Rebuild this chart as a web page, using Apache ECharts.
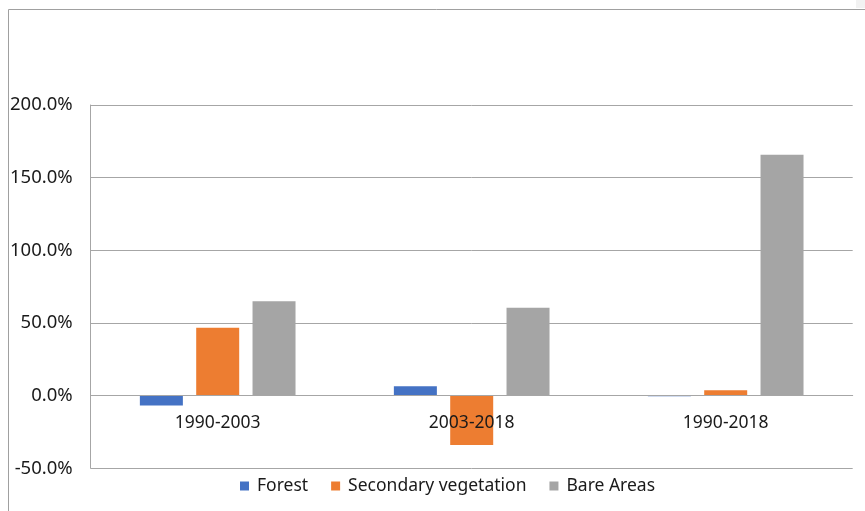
<!DOCTYPE html>
<html>
<head>
<meta charset="utf-8">
<script src="https://cdn.jsdelivr.net/npm/echarts@6/dist/echarts.min.js"></script>
<style>
  html, body { margin: 0; padding: 0; background: #fff; }
  #chart { width: 865px; height: 511px; }
</style>
</head>
<body>
<div id="chart"></div>
<script>
// Land-cover change per period (%)
const periods = ['1990-2003', '2003-2018', '1990-2018'];
const forest = [-6.7, 6.4, -0.4];
const secondaryVegetation = [46.8, -34.0, 3.7];
const bareAreas = [65.0, 60.4, 165.7];
const yTicks = { min: -50, max: 200, step: 50 };

const chart = echarts.init(document.getElementById('chart'), null, { renderer: 'canvas' });
const font = '"Noto Sans", sans-serif';
const lineGray = '#a6a6a6';
const textColor = '#1a1a1a';

// Category labels sit just under the zero line rather than at the grid bottom
const gridTop = 105, gridBottom = 42.7;
const plotHeight = 511 - gridTop - gridBottom;
const zeroFromBottom = plotHeight * (0 - yTicks.min) / (yTicks.max - yTicks.min);

const barStyle = (name, data, color) => ({
  name, type: 'bar', data,
  barWidth: 43, barGap: '31%',
  itemStyle: { color },
  emphasis: { disabled: true }
});

chart.setOption({
  animation: false,
  textStyle: { fontFamily: font },
  grid: { left: 90.7, right: 12.3, top: gridTop, bottom: gridBottom, containLabel: false },
  legend: {
    left: 235, top: 472,
    icon: 'rect', itemWidth: 9, itemHeight: 9, itemGap: 23,
    textStyle: { fontSize: 17.5, color: textColor, fontFamily: font, padding: [0, 0, 0, 3] },
    data: ['Forest', 'Secondary vegetation', 'Bare Areas']
  },
  xAxis: {
    type: 'category', data: periods, z: 5,
    axisLine: { onZero: true, lineStyle: { color: lineGray, width: 1 } },
    axisTick: { show: false },
    axisLabel: { fontSize: 17.5, color: textColor, margin: 18 - zeroFromBottom, fontFamily: font },
    splitLine: { show: false }
  },
  yAxis: {
    type: 'value', min: yTicks.min, max: yTicks.max, interval: yTicks.step,
    axisLine: { show: true, lineStyle: { color: lineGray, width: 1 } },
    axisTick: { show: false },
    axisLabel: { fontSize: 18.5, color: textColor, margin: 18, fontFamily: font,
      formatter: v => v.toFixed(1) + '%' },
    splitLine: { show: true, lineStyle: { color: lineGray, width: 1 } }
  },
  graphic: [
    { type: 'polyline', silent: true,
      shape: { points: [[8.5, 511], [8.5, 9.5], [865, 9.5]] },
      style: { stroke: '#a0a0a0', lineWidth: 1, fill: null } },
    { type: 'rect', silent: true,
      shape: { x: 856, y: 0, width: 9, height: 8 },
      style: { fill: '#f2f2f2' } }
  ],
  series: [
    barStyle('Forest', forest, '#4472c4'),
    barStyle('Secondary vegetation', secondaryVegetation, '#ed7d31'),
    barStyle('Bare Areas', bareAreas, '#a5a5a5')
  ]
});
</script>
</body>
</html>
